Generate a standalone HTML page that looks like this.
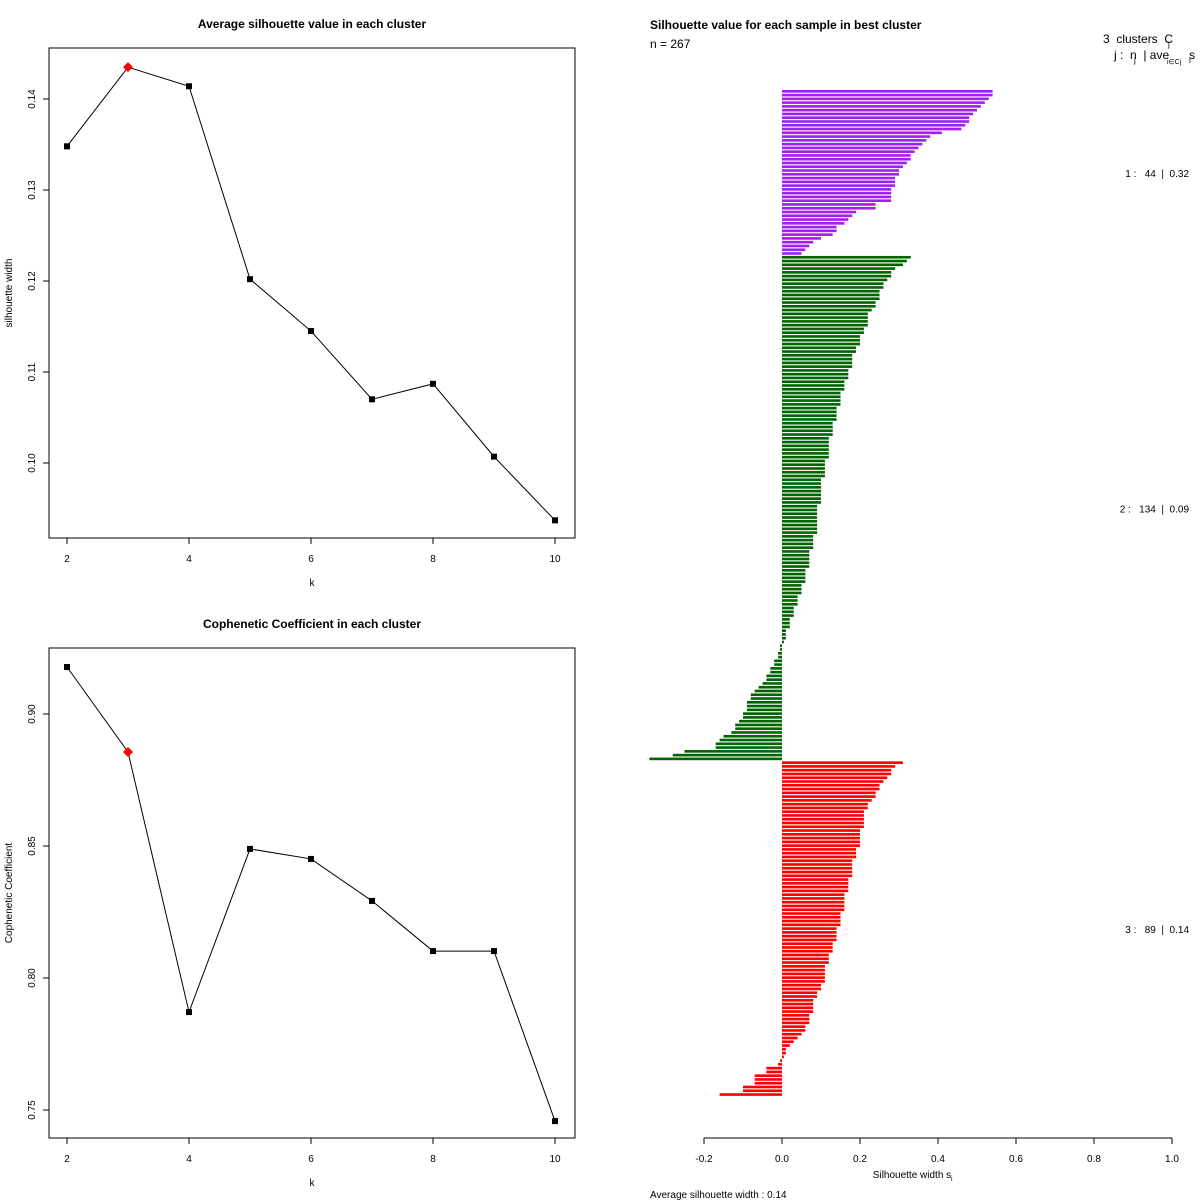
<!DOCTYPE html>
<html><head><meta charset="utf-8"><style>
body{margin:0;background:#fff}
svg{display:block;font-family:"Liberation Sans",sans-serif}
.pre{white-space:pre}
</style></head><body>
<svg id="s" width="1200" height="1200" xmlns="http://www.w3.org/2000/svg"></svg>
<script>
const kValues=[2,3,4,5,6,7,8,9,10];
const silValues=[0.1348,0.1435,0.1414,0.1202,0.1145,0.1070,0.1087,0.1007,0.0937];
const silTicks=[0.10,0.11,0.12,0.13,0.14];
const copValues=[0.9178,0.8856,0.7871,0.8489,0.8451,0.8292,0.8102,0.8102,0.7458];
const copTicks=[0.75,0.80,0.85,0.90];
const kTicks=[2,4,6,8,10];
const bestIdx=1;
const cluster1=[0.54,0.54,0.53,0.52,0.51,0.50,0.49,0.48,0.48,0.47,0.46,0.41,0.38,0.37,0.36,0.35,0.34,0.33,0.33,0.32,0.31,0.30,0.30,0.29,0.29,0.29,0.28,0.28,0.28,0.28,0.24,0.24,0.19,0.18,0.17,0.16,0.14,0.14,0.13,0.10,0.08,0.07,0.06,0.05];
const cluster2=[0.33,0.32,0.31,0.29,0.28,0.28,0.27,0.26,0.26,0.25,0.25,0.25,0.24,0.24,0.23,0.22,0.22,0.22,0.22,0.21,0.21,0.20,0.20,0.20,0.19,0.19,0.18,0.18,0.18,0.18,0.17,0.17,0.17,0.16,0.16,0.16,0.15,0.15,0.15,0.15,0.14,0.14,0.14,0.14,0.13,0.13,0.13,0.13,0.12,0.12,0.12,0.12,0.12,0.12,0.11,0.11,0.11,0.11,0.11,0.10,0.10,0.10,0.10,0.10,0.10,0.10,0.09,0.09,0.09,0.09,0.09,0.09,0.09,0.09,0.08,0.08,0.08,0.08,0.07,0.07,0.07,0.07,0.07,0.06,0.06,0.06,0.06,0.05,0.05,0.05,0.04,0.04,0.04,0.03,0.03,0.03,0.02,0.02,0.02,0.01,0.01,0.01,0.005,-0.005,-0.005,-0.01,-0.01,-0.02,-0.02,-0.03,-0.03,-0.04,-0.04,-0.05,-0.06,-0.07,-0.08,-0.08,-0.09,-0.09,-0.09,-0.10,-0.10,-0.11,-0.12,-0.12,-0.13,-0.15,-0.16,-0.17,-0.17,-0.25,-0.28,-0.34];
const cluster3=[0.31,0.29,0.28,0.28,0.27,0.26,0.25,0.25,0.24,0.24,0.23,0.22,0.22,0.21,0.21,0.21,0.21,0.21,0.20,0.20,0.20,0.20,0.20,0.19,0.19,0.19,0.18,0.18,0.18,0.18,0.18,0.17,0.17,0.17,0.17,0.16,0.16,0.16,0.16,0.16,0.15,0.15,0.15,0.15,0.14,0.14,0.14,0.14,0.13,0.13,0.13,0.12,0.12,0.12,0.11,0.11,0.11,0.11,0.11,0.10,0.10,0.09,0.09,0.08,0.08,0.08,0.08,0.07,0.07,0.07,0.06,0.06,0.05,0.04,0.03,0.02,0.01,0.01,0.005,-0.005,-0.01,-0.04,-0.04,-0.07,-0.07,-0.07,-0.10,-0.10,-0.16];
const clusterAvg=["0.32","0.09","0.14"];
const clusterColors=["#a020f0","#006400","#ff0000"];
const silXTicks=[-0.2,0,0.2,0.4,0.6,0.8,1.0];

const S=document.getElementById('s');const NS='http://www.w3.org/2000/svg';
function el(t,a,txt){const e=document.createElementNS(NS,t);for(const k in a)e.setAttribute(k,a[k]);if(txt!==undefined)e.textContent=txt;S.appendChild(e);return e;}

function linePanel(o){
  const xs=k=>67+(k-2)*61;
  const ys=v=>o.y0+(o.v0-v)*o.scale;
  const box=el('rect',{x:49,y:o.top,width:526,height:490,fill:'none',stroke:'#000'});
  
  const t=el('text',{x:312,y:o.top-20,'text-anchor':'middle','font-size':12,'font-weight':'bold'},o.title);
  
  const bottom=o.top+490;
  kTicks.forEach(k=>{el('line',{x1:xs(k),x2:xs(k),y1:bottom,y2:bottom+6,stroke:'#000'});
    const l=el('text',{x:xs(k),y:bottom+24,'text-anchor':'middle','font-size':10},String(k));
    });
  const xl=el('text',{x:312,y:bottom+48,'text-anchor':'middle','font-size':10},'k');
  
  o.ticks.forEach(v=>{const y=ys(v);el('line',{x1:43,x2:49,y1:y,y2:y,stroke:'#000'});
    const l=el('text',{x:35,y:y,'text-anchor':'middle','font-size':10,transform:`rotate(-90 35 ${y})`},v.toFixed(2));
    });
  const yc=o.top+245;
  const yl=el('text',{x:12,y:yc,'text-anchor':'middle','font-size':10,transform:`rotate(-90 12 ${yc})`},o.ytitle);
  
  const pts=kValues.map((k,i)=>xs(k)+','+ys(o.vals[i])).join(' ');
  const pl=el('polyline',{points:pts,fill:'none',stroke:'#000','stroke-width':1});
  
  kValues.forEach((k,i)=>{const x=xs(k),y=ys(o.vals[i]);
    if(i===bestIdx){const p=el('polygon',{points:`${x},${y-5} ${x+5},${y} ${x},${y+5} ${x-5},${y}`,fill:'#f00'});
      }
    else{const r=el('rect',{x:x-3,y:y-3,width:6,height:6,fill:'#000'});
      }});
}
linePanel({name:'silhouette',top:48,title:'Average silhouette value in each cluster',ytitle:'silhouette width',vals:silValues,ticks:silTicks,v0:0.14,y0:99,scale:9100});
linePanel({name:'cophenetic',top:648,title:'Cophenetic Coefficient in each cluster',ytitle:'Cophenetic Coefficient',vals:copValues,ticks:copTicks,v0:0.90,y0:714,scale:2640});

const sx=v=>782+v*390;
const all=[cluster1,cluster2,cluster3];
const total=cluster1.length+cluster2.length+cluster3.length;
const step=(1097-90)/total;
let idx=0;
const labelY=[];
all.forEach((c,ci)=>{const start=idx;
  c.forEach(v=>{const y=90+idx*step;const x0=Math.min(sx(0),sx(v));const w=Math.abs(sx(v)-sx(0));
    const r=el('rect',{x:x0,y:y,width:Math.max(w,0.5),height:step*0.7,fill:clusterColors[ci]});
    idx++;});
  labelY.push(90+(start+idx)/2*step);});
all.forEach((c,ci)=>{const t=el('text',{x:1189,y:labelY[ci]+4,'text-anchor':'end','font-size':10,'class':'pre'},`${ci+1} :   ${c.length}  |  ${clusterAvg[ci]}`);
  });
const ax=el('line',{x1:sx(-0.2),x2:sx(1),y1:1138,y2:1138,stroke:'#000'});

silXTicks.forEach(v=>{el('line',{x1:sx(v),x2:sx(v),y1:1138,y2:1144,stroke:'#000'});
  const l=el('text',{x:sx(v),y:1162,'text-anchor':'middle','font-size':10},v.toFixed(1));
  });
const a=el('text',{x:912,y:1178,'text-anchor':'middle','font-size':10},'Silhouette width s');

el('text',{x:951,y:1181,'font-size':7},'i');
const t3=el('text',{x:650,y:29,'font-size':12,'font-weight':'bold'},'Silhouette value for each sample in best cluster');

const n=el('text',{x:650,y:48,'font-size':12},'n = 267');

const h1=el('text',{x:1103,y:43,'font-size':12,'class':'pre'},'3  clusters  C');

el('text',{x:1168,y:47,'font-size':8},'j');
const h2=el('text',{x:1114,y:59,'font-size':12,'class':'pre'},'j :  n  | ave      s');

el('text',{x:1134,y:63,'font-size':8},'j');
el('text',{x:1167,y:64,'font-size':7},'i∈Cj');
el('text',{x:1189,y:63,'font-size':8},'i');
const av=el('text',{x:650,y:1198,'font-size':10},'Average silhouette width :  0.14');

</script>
</body></html>
